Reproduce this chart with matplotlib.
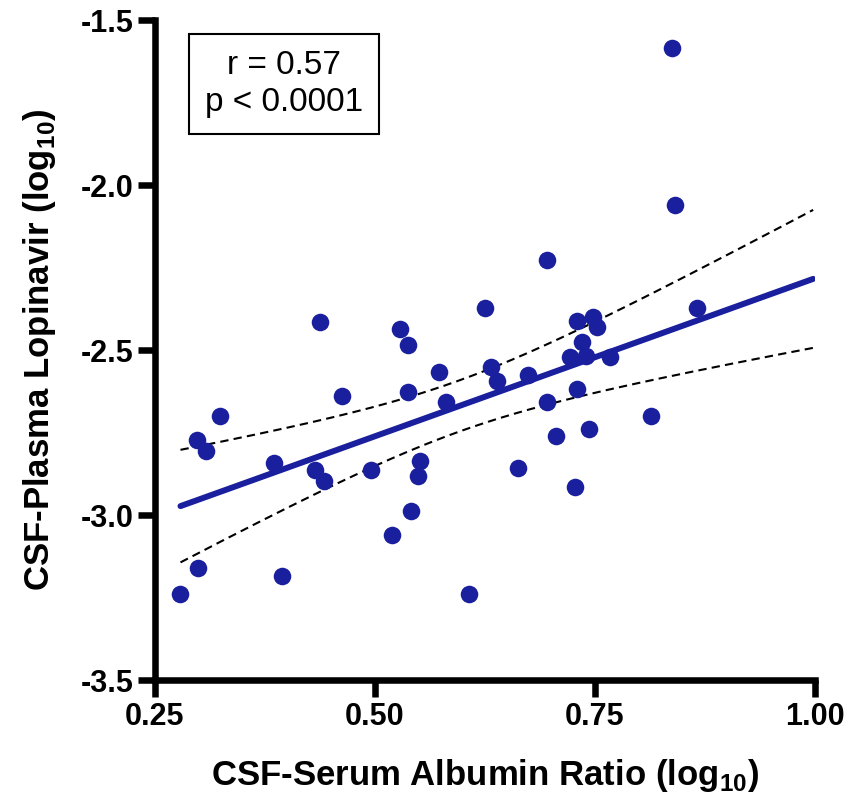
import numpy as np
import matplotlib
matplotlib.use("Agg")
import matplotlib.pyplot as plt

plt.rcParams['font.family'] = ['Liberation Sans', 'DejaVu Sans']
plt.rcParams['mathtext.fontset'] = 'custom'
plt.rcParams['mathtext.rm'] = 'Liberation Sans'
plt.rcParams['mathtext.bf'] = 'Liberation Sans:bold'

albumin_ratio = [0.279, 0.299, 0.298, 0.308, 0.324, 0.385, 0.394, 0.432, 0.438, 0.442,
                 0.463, 0.496, 0.519, 0.529, 0.537, 0.541, 0.538, 0.549, 0.551, 0.573,
                 0.581, 0.607, 0.625, 0.632, 0.639, 0.662, 0.674, 0.695, 0.695, 0.706,
                 0.722, 0.727, 0.730, 0.730, 0.735, 0.740, 0.743, 0.748, 0.752, 0.767,
                 0.814, 0.838, 0.841, 0.866]
lopinavir_ratio = [-3.238, -3.160, -2.773, -2.804, -2.700, -2.841, -3.184, -2.864, -2.413, -2.897,
                   -2.638, -2.862, -3.059, -2.435, -2.484, -2.986, -2.625, -2.882, -2.834, -2.566,
                   -2.657, -3.238, -2.373, -2.551, -2.592, -2.856, -2.575, -2.227, -2.657, -2.761,
                   -2.520, -2.915, -2.410, -2.618, -2.474, -2.518, -2.738, -2.400, -2.429, -2.520,
                   -2.699, -1.585, -2.060, -2.371]
# regression line
fit_slope = 0.957
fit_intercept = -3.239
x_ticks = [0.25, 0.50, 0.75, 1.00]
x_tick_labels = ["0.25", "0.50", "0.75", "1.00"]
y_ticks = [-3.5, -3.0, -2.5, -2.0, -1.5]
y_tick_labels = ["-3.5", "-3.0", "-2.5", "-2.0", "-1.5"]
stats_text = "r = 0.57\np < 0.0001"

x = np.array(albumin_ratio)
y = np.array(lopinavir_ratio)
n = len(x)
resid = y - (fit_slope * x + fit_intercept)
s = np.sqrt(np.sum(resid**2) / (n - 2))
t_crit = 2.018  # t(0.975, df=42)
xx = np.linspace(x.min(), 0.998, 200)
yy = fit_slope * xx + fit_intercept
se = s * np.sqrt(1 / n + (xx - x.mean())**2 / np.sum((x - x.mean())**2))

color = '#1a1f9e'
fig = plt.figure(figsize=(8.59, 7.97), dpi=100)
ax = fig.add_axes([0.1804, 0.1462, 0.7683, 0.8287])
ax.scatter(x, y, s=160, color=color, zorder=3, linewidths=0)
ax.plot(xx, yy, color=color, lw=4.3, solid_capstyle='round', zorder=2)
ax.plot(xx, yy + t_crit * se, color='black', lw=1.5, ls=(0, (4, 2.5)), zorder=2)
ax.plot(xx, yy - t_crit * se, color='black', lw=1.5, ls=(0, (4, 2.5)), zorder=2)

ax.set_xlim(0.25, 1.0)
ax.set_ylim(-3.5, -1.5)
ax.set_xticks(x_ticks)
ax.set_xticklabels(x_tick_labels)
ax.set_yticks(y_ticks)
ax.set_yticklabels(y_tick_labels)
for sp in ['top', 'right']:
    ax.spines[sp].set_visible(False)
for sp in ['left', 'bottom']:
    ax.spines[sp].set_linewidth(4.7)
    ax.spines[sp].set_capstyle('projecting')
ax.tick_params(direction='out', length=12, width=4.7, labelsize=22, pad=3.5)
for lab in ax.get_xticklabels() + ax.get_yticklabels():
    lab.set_fontweight('bold')

ax.set_xlabel(r'CSF-Serum Albumin Ratio (log$_{\mathbf{10}}$)', fontsize=25, fontweight='bold', labelpad=18)
ax.set_ylabel(r'CSF-Plasma Lopinavir (log$_{\mathbf{10}}$)', fontsize=25, fontweight='bold', labelpad=16)

ax.text(0.195, 0.9035, stats_text, transform=ax.transAxes, ha='center', va='center',
        fontsize=24, linespacing=1.25,
        bbox=dict(boxstyle='square,pad=0.48', facecolor='white', edgecolor='black', lw=1.5))

fig.savefig('out.png', dpi=100)
